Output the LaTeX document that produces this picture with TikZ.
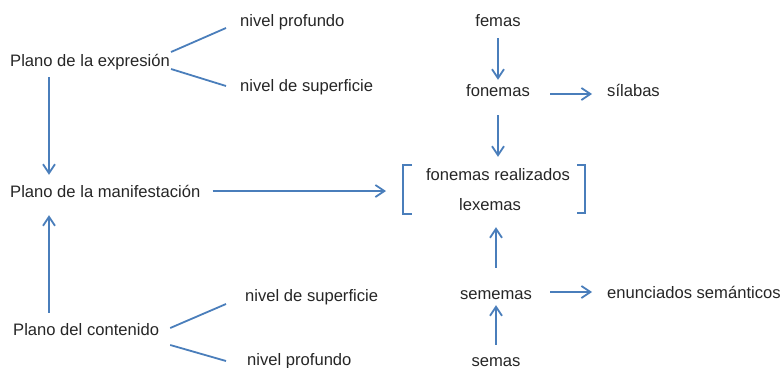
\documentclass[tikz,border=0pt]{standalone}
\usepackage{fontspec}
\setmainfont{Liberation Sans}
\usepackage{xcolor}
\usepackage{tikz}
\usetikzlibrary{arrows.meta}
\usetikzlibrary{positioning}
\definecolor{lineblue}{RGB}{74,126,187}
\definecolor{textgray}{RGB}{38,38,38}
\tikzset{
    txtnode/.style = {inner sep=0pt, text height=14pt, text depth=2pt, text=textgray},
    txtl/.style = {txtnode, anchor=west},
}

\begin{document}
\begin{tikzpicture}[
	x=1pt, y=-1pt,
	font=\fontsize{16.6}{19}\selectfont
]
\tikzset{
    edgen/.style = {-, line width=1.8pt, lineblue},
    edgea/.style = {-{Straight Barb[length=9pt,width=12pt]}, line width=1.8pt, lineblue},
    edgeb/.style = {-, line width=1.8pt, lineblue, line join=miter}
}
\useasboundingbox (0,0) rectangle (784,367);
% left column
\node[txtl] at (10,60) (expr) {Plano de la expresión};
\node[txtl] at (10,191) (manif) {Plano de la manifestación};
\node[txtl] at (13,329) (cont) {Plano del contenido};
\node[txtl] at (240,20) (prof1) {nivel profundo};
\node[txtl] at (240,85) (sup1) {nivel de superficie};
\node[txtl] at (245,295) (sup2) {nivel de superficie};
\node[txtl] at (247,359) (prof2) {nivel profundo};
% right column
\node[txtnode] at (498,20) (femas) {femas};
\node[txtnode] at (498,90) (fonemas) {fonemas};
\node[txtl] at (607,90) (silabas) {sílabas};
\node[txtnode] at (498,174) (real) {fonemas realizados};
\node[txtnode] at (490,204) (lex) {lexemas};
\node[txtnode] at (496,293) (sememas) {sememas};
\node[txtl] at (607,292) (enun) {enunciados semánticos};
\node[txtnode] at (496,360) (semas) {semas};
\coordinate (brL) at (403,191);
\coordinate (brR) at (585,191);
%
\draw[edgen] ([xshift=1pt,yshift=8pt]expr.east) -- ([xshift=-14pt,yshift=-8pt]prof1.west);
\draw[edgen] ([xshift=1pt,yshift=-9pt]expr.east) -- ([xshift=-14pt,yshift=-1pt]sup1.west);
\draw[edgen] ([xshift=11pt,yshift=1pt]cont.east) -- ([xshift=-19pt,yshift=-9pt]sup2.west);
\draw[edgen] ([xshift=11pt,yshift=-16pt]cont.east) -- ([xshift=-21pt,yshift=-2pt]prof2.west);
%
\draw[edgea, shorten <=9pt, shorten >=8pt] ([xshift=39pt]expr.south west) -- ([xshift=39pt]manif.north west);
\draw[edgea, shorten <=8pt, shorten >=16pt] ([xshift=36pt]cont.north west) -- ([xshift=39pt]manif.south west);
\draw[edgea, shorten <=12pt, shorten >=17pt] (manif.east) -- (brL);
%
\draw[edgea, shorten <=10pt, shorten >=2pt] (femas.south) -- (fonemas.north);
\draw[edgea, shorten <=20pt, shorten >=15pt] ([yshift=-4pt]fonemas.east) -- ([yshift=-4pt]silabas.west);
\draw[edgea, shorten <=17pt, shorten >=9pt] (fonemas.south) -- (real.north);
\draw[edgea, shorten <=17pt, shorten >=15pt] (sememas.north) -- (sememas.north |- lex.south);
\draw[edgea, shorten <=18pt, shorten >=15pt] ([yshift=1pt]sememas.east) -- (enun.west);
\draw[edgea, shorten <=7pt, shorten >=4pt] (semas.north) -- (sememas.south);
%
\draw[edgeb] (412,165) -- (403,165) -- (403,214) -- (412,214);
\draw[edgeb] (577,165) -- (585,165) -- (585,213) -- (577,213);
\end{tikzpicture}
\end{document}
